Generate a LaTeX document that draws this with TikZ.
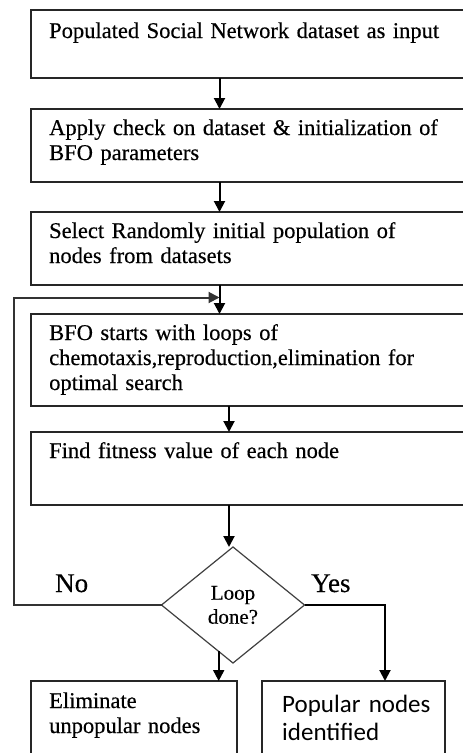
\documentclass[tikz,border=0pt]{standalone}
\usepackage{fontspec}
\setmainfont[FakeBold=0.35]{Liberation Serif}
\newfontfamily\calib{Carlito}
\usetikzlibrary{arrows.meta,shapes.geometric,calc}
\begin{document}
\begin{tikzpicture}[x=1pt,y=-1pt,
  box/.style={draw=black!85,line width=1.6pt,rectangle,inner sep=0pt,outer sep=0pt,anchor=north west},
  txt/.style={anchor=base west,inner sep=0pt,text width=420pt,align=left,font=\fontsize{22.5}{25}\selectfont},
  ctxt/.style={anchor=base west,inner sep=0pt,text width=180pt,align=left,font=\calib\fontsize{25}{28}\selectfont},
  lbl/.style={anchor=base west,inner sep=0pt,font=\fontsize{27}{30}\selectfont},
  arr/.style={draw=black,line width=2pt,line join=miter,-{Triangle[length=11pt,width=11pt]}},
  dec/.style={diamond,draw=black!75,line width=1.2pt,inner sep=0pt,outer sep=0pt,align=center,font=\fontsize{21}{24}\selectfont}
]
\useasboundingbox (0,0) rectangle (463,753);
\clip (0,0) rectangle (463,753);
\fill[white] (0,0) rectangle (463,753);

% boxes
\node[box,minimum width=460pt,minimum height=68pt] (b1) at (31,10) {};
\node[box,minimum width=460pt,minimum height=73pt] (b2) at (31,109) {};
\node[box,minimum width=460pt,minimum height=73pt] (b3) at (31,212) {};
\node[box,minimum width=460pt,minimum height=92pt] (b4) at (31,314) {};
\node[box,minimum width=460pt,minimum height=73pt] (b5) at (31,432) {};
\node[box,minimum width=206pt,minimum height=100pt] (b6) at (31,681) {};
\node[box,minimum width=183pt,minimum height=100pt] (b7) at (262,681) {};

% texts
\node[txt] (t1) at (49,38) {Populated Social Network dataset as input};
\node[txt] (t2) at (49,135) {Apply check on dataset \& initialization of\\BFO parameters};
\node[txt] (t3) at (49,238) {Select Randomly initial population of\\nodes from datasets};
\node[txt] (t4) at (49,340) {BFO starts with loops of\\chemotaxis,reproduction,elimination for\\optimal search};
\node[txt] (t5) at (49,458) {Find fitness value of each node};
\node[txt] (t6) at (49,708) {Eliminate\\unpopular nodes};
\node[ctxt] (t7) at (282,712) {Popular nodes\\identified};

% decision
\node[dec,minimum width=143pt,minimum height=116pt] (d) at (233,605) {Loop\\done?};
\node[lbl] (no) at (55,592) {No};
\node[lbl] (yes) at (311,592) {Yes};

% connectors
\coordinate (ax) at (219.5,0);
\coordinate (bx) at (229,0);
\coordinate (yx) at (385,0);
\coordinate (fb) at (14,297.5);
\draw[arr] (b1.south -| ax) -- (b2.north -| ax);
\draw[arr] (b2.south -| ax) -- (b3.north -| ax);
\draw[arr] (b3.south -| ax) -- (b4.north -| ax);
\draw[arr] (b4.south -| bx) -- (b5.north -| bx);
\draw[arr] (b5.south -| bx) -- (d.north -| bx);
\draw[arr,draw=black!80] (d.west) -| (fb) -- (fb -| ax);
\draw[arr] (d.east) -| (b7.north -| yx);
\coordinate (n0) at ($(d.west)!0.8!(d.south)$);
\draw[arr] (n0) -- (n0 |- b6.north);
\end{tikzpicture}
\end{document}
